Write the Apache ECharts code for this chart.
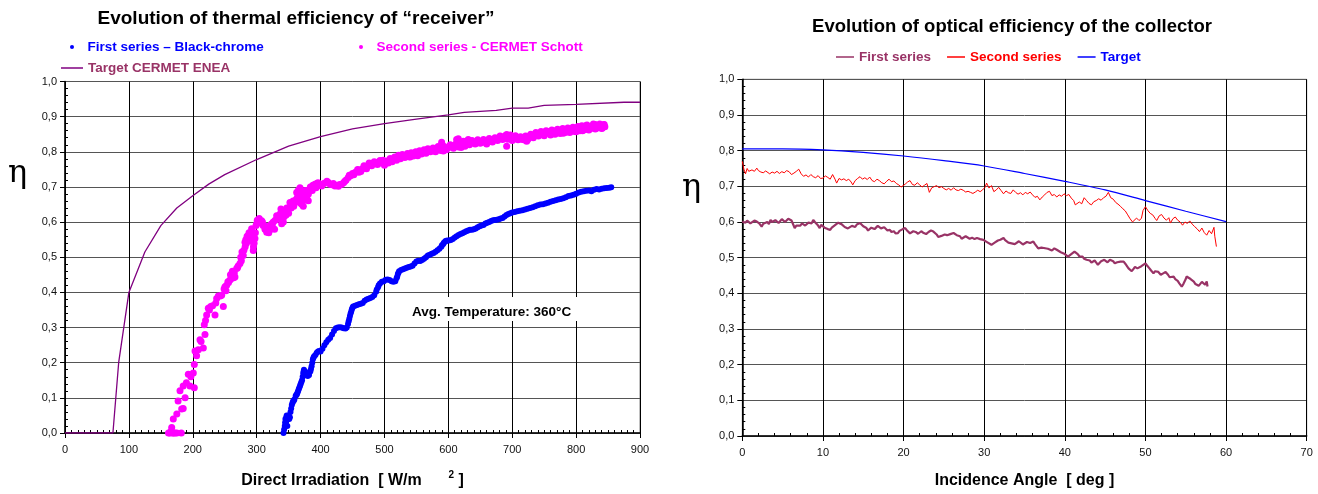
<!DOCTYPE html>
<html><head><meta charset="utf-8">
<script src="https://cdn.jsdelivr.net/npm/echarts@6/dist/echarts.min.js"></script>
<style>html,body{margin:0;padding:0;background:#fff}#c{width:1318px;height:494px}</style>
</head><body><div id="c"></div>
<script>
// ---------- Left chart data: thermal efficiency vs direct irradiation ----------
const blackChrome = [[342,0],[343,0.01],[344,0.02],[344.5,0.03],[345,0.04],[346,0.03],[346.5,0.045],[347,0.05],[348,0.02],[349,0.04],[350,0.05],[351,0.04],[352,0.045],[353,0.06],[354,0.07],[355,0.08],[356,0.085],[357,0.09],[358,0.092],[359,0.095],[361,0.105],[362,0.108],[363,0.11],[364,0.115],[365,0.12],[366,0.125],[367,0.13],[368,0.135],[369,0.14],[370,0.145],[371,0.15],[372,0.16],[373,0.17],[373.5,0.175],[374,0.18],[376,0.175],[378,0.165],[380,0.162],[382,0.165],[384,0.175],[385,0.182],[386,0.19],[387,0.2],[388,0.21],[389,0.215],[390,0.218],[392,0.222],[394,0.228],[396,0.232],[398,0.233],[400,0.232],[403,0.24],[406,0.25],[409,0.258],[412,0.265],[415,0.27],[418,0.28],[421,0.29],[424,0.298],[427,0.3],[430,0.301],[433,0.3],[436,0.298],[439,0.297],[441,0.3],[443,0.31],[444,0.318],[445,0.325],[446,0.333],[447,0.34],[448,0.346],[449,0.352],[450,0.356],[451,0.36],[454,0.362],[457,0.364],[460,0.366],[463,0.368],[466,0.37],[469,0.376],[472,0.38],[475,0.382],[478,0.384],[481,0.387],[484,0.392],[487,0.402],[488,0.408],[490,0.415],[491,0.42],[493,0.425],[496,0.43],[499,0.432],[502,0.436],[505,0.437],[508,0.435],[511,0.432],[514,0.43],[517,0.432],[519,0.44],[520,0.445],[521,0.452],[522,0.456],[523,0.46],[526,0.464],[529,0.466],[532,0.468],[535,0.47],[538,0.472],[541,0.474],[544,0.476],[547,0.482],[550,0.488],[553,0.49],[556,0.489],[559,0.492],[562,0.496],[565,0.5],[568,0.505],[571,0.507],[574,0.51],[577,0.512],[580,0.516],[583,0.52],[586,0.524],[589,0.53],[590,0.534],[592,0.538],[593,0.541],[595,0.545],[596,0.546],[598,0.548],[601,0.548],[604,0.549],[607,0.552],[610,0.556],[613,0.56],[616,0.563],[619,0.566],[622,0.568],[625,0.571],[628,0.574],[631,0.576],[634,0.578],[637,0.578],[640,0.58],[643,0.582],[646,0.585],[649,0.588],[652,0.59],[655,0.592],[658,0.596],[661,0.598],[664,0.6],[667,0.603],[670,0.605],[673,0.606],[676,0.607],[679,0.608],[682,0.61],[685,0.612],[688,0.616],[691,0.62],[694,0.623],[697,0.625],[700,0.627],[704,0.629],[708,0.631],[712,0.632],[716,0.634],[720,0.636],[724,0.638],[728,0.64],[732,0.642],[736,0.645],[740,0.648],[744,0.65],[748,0.651],[752,0.653],[756,0.655],[760,0.658],[764,0.66],[768,0.662],[772,0.664],[776,0.666],[780,0.668],[784,0.671],[788,0.674],[792,0.676],[796,0.678],[800,0.681],[804,0.684],[808,0.686],[812,0.688],[816,0.689],[820,0.69],[824,0.688],[828,0.692],[832,0.694],[836,0.693],[840,0.695],[844,0.696],[848,0.697],[852,0.698],[855,0.699]];

const cermetSchott = [[162,0],[164,0],[166,0.005],[167,0.016],[168,0],[170,0],[172,0],[175,0],[182,0],[169.5,0.04],[175,0.054],[177,0.091],[180,0.12],[182.6,0.068],[185,0.07],[185,0.134],[188,0.1],[190,0.143],[193,0.167],[195.6,0.134],[197,0.16],[200.8,0.171],[202.4,0.129],[202.4,0.195],[203.5,0.233],[206,0.22],[208.7,0.237],[211.3,0.265],[213,0.26],[216.5,0.242],[218,0.308],[219.1,0.28],[220,0.32],[221.7,0.336],[224.3,0.355],[226,0.35],[228,0.36],[231,0.362],[234.8,0.336],[236,0.37],[237.4,0.383],[240,0.39],[243,0.39],[245.2,0.392],[247.8,0.36],[249,0.41],[250.4,0.416],[253,0.42],[256,0.428],[258.2,0.435],[261,0.44],[264,0.442],[266,0.444],[268.7,0.468],[270,0.47],[273.9,0.482],[276,0.49],[279,0.505],[280,0.52],[281.7,0.543],[283,0.55],[285,0.56],[286.9,0.562],[288,0.57],[290,0.55],[292.1,0.581],[294.7,0.519],[295,0.53],[297.3,0.553],[299,0.59],[300,0.595],[302.6,0.6],[305,0.598],[307.8,0.604],[310,0.59],[313,0.58],[315.7,0.571],[318,0.575],[320.8,0.59],[323.5,0.595],[326,0.6],[329,0.605],[331.3,0.618],[333,0.61],[336.5,0.623],[338,0.637],[339.1,0.595],[341.7,0.6],[344,0.63],[347,0.64],[349.5,0.637],[352.1,0.656],[355,0.65],[357,0.66],[360,0.656],[362.6,0.684],[364,0.67],[365,0.69],[367.8,0.698],[369,0.68],[370.4,0.651],[372,0.66],[374,0.675],[376,0.69],[378.3,0.67],[380.8,0.661],[383.4,0.694],[386,0.7],[388,0.705],[391.3,0.708],[394,0.71],[397,0.705],[401.7,0.703],[405,0.71],[408,0.712],[412.1,0.713],[415,0.708],[418,0.706],[422.6,0.703],[426,0.705],[430,0.707],[433,0.708],[436,0.712],[440,0.72],[443.4,0.727],[447,0.732],[450,0.738],[453.9,0.741],[457,0.744],[460,0.748],[464.3,0.75],[467,0.754],[470,0.757],[474.7,0.761],[478,0.764],[482,0.766],[485,0.768],[487.8,0.769],[491,0.771],[494,0.768],[497,0.77],[500.8,0.767],[504,0.773],[507,0.776],[510,0.775],[513.8,0.778],[517,0.78],[520,0.782],[523,0.784],[526.9,0.785],[530,0.787],[534,0.789],[537,0.79],[540,0.79],[543,0.792],[547,0.793],[550,0.794],[553,0.794],[556,0.798],[560,0.8],[563,0.801],[566,0.802],[570,0.804],[574,0.806],[579,0.807],[582,0.81],[586,0.809],[589.5,0.827],[592.1,0.802],[595,0.81],[598,0.811],[601,0.813],[605,0.814],[607.7,0.816],[610,0.818],[613,0.835],[615.6,0.837],[618,0.82],[621,0.822],[623.4,0.83],[626,0.816],[629,0.823],[631.2,0.835],[634,0.824],[638,0.826],[641,0.827],[644.3,0.826],[647,0.828],[651,0.829],[654,0.828],[657,0.83],[660,0.83],[663,0.832],[667,0.833],[671,0.834],[675.6,0.837],[679,0.838],[683,0.84],[687,0.842],[691.3,0.849],[691.3,0.816],[695,0.84],[699,0.841],[703,0.84],[706.9,0.84],[710,0.838],[714,0.836],[718,0.834],[722.6,0.83],[725,0.838],[727.7,0.844],[731,0.845],[735,0.847],[739,0.85],[743.4,0.852],[747,0.853],[751,0.855],[756.4,0.858],[760,0.856],[765,0.855],[769.5,0.854],[773,0.857],[777,0.859],[781,0.86],[785.1,0.861],[789,0.862],[793,0.862],[797,0.863],[800.8,0.863],[804,0.865],[808,0.866],[811.2,0.868],[814,0.869],[818,0.87],[821.7,0.871],[825,0.872],[829,0.873],[832.1,0.874],[835,0.873],[838,0.872],[842.5,0.872],[845,0.871],[760,0.848],[790,0.855],[810,0.86],[830,0.865],[840,0.866],[820,0.862],[800,0.857],[780,0.853],[750,0.846],[700,0.832],[660,0.822],[620,0.812],[580,0.8],[540,0.785],[500,0.762],[460,0.742],[770,0.862],[800,0.868],[830,0.878],[843,0.877],[815,0.874],
[252,0.405],[255,0.43],[259,0.45],[262,0.46],[265,0.455],[271,0.475],[275,0.5],[277,0.515],[282,0.53],[284,0.54],[289,0.555],[291,0.565],[293,0.545],[296,0.54],[298,0.57],[301,0.605],[304,0.61],[306,0.6],[309,0.6],[312,0.59],[316,0.585],[319,0.57],[322,0.58],[325,0.585],[328,0.58],[335,0.61],[343,0.615],[346,0.62],[350,0.625],[354,0.64],[358,0.645],[362,0.665],[365,0.675],[368,0.655],[371,0.67],[373,0.645],[375,0.685],[379,0.69],[381,0.68],[384,0.7],[387,0.69],[390,0.703],[393,0.698],[396,0.712],[399,0.708],
[403,0.708],[410,0.716],[420,0.71],[428,0.702],[438,0.716],[445,0.733],[452,0.735],[458,0.75],[463,0.744],[468,0.76],[472,0.752],[476,0.768],[480,0.76],[484,0.772],[489,0.764],[493,0.775],[498,0.776],[502,0.772],[506,0.768],[509,0.781],[512,0.772],[516,0.785],[519,0.776],[522,0.79],[525,0.78],[528,0.792],[532,0.784],[536,0.795],[539,0.786],[542,0.797],[545,0.788],[549,0.8],[552,0.789],[555,0.803],[558,0.794],[562,0.806],[565,0.796],[568,0.809],[572,0.8],[576,0.811],[584,0.815],[588,0.804],[593,0.816],[597,0.806],[603,0.82],[608,0.81],[612,0.823],[616,0.814],[620,0.826],[624,0.818],[628,0.83],[633,0.82],[637,0.832],[642,0.822],[646,0.834],[650,0.824],[655,0.835],[659,0.826],[664,0.838],[669,0.828],[673,0.84],[677,0.832],[681,0.845],[685,0.835],[689,0.846],[693,0.836],[697,0.848],[701,0.836],[705,0.846],[709,0.834],[713,0.843],[717,0.84],[721,0.845],[724,0.834],[729,0.85],[733,0.84],[737,0.855],[741,0.845],[745,0.858],[749,0.849],[753,0.86],[758,0.852],[762,0.862],[767,0.85],[771,0.864],[775,0.852],[779,0.866],[783,0.855],[787,0.868],[791,0.858],[795,0.87],[798,0.858],[803,0.872],[806,0.86],[809,0.874],[813,0.863],[817,0.876],[823,0.866],[827,0.879],[833,0.868],[837,0.879],[841,0.868],[844,0.878]];

const targetEnea = [[0,0],[75,0],[84,0.2],[100,0.4],[125,0.515],[150,0.59],[175,0.64],[200,0.675],[225,0.708],[250,0.735],[300,0.778],[350,0.816],[400,0.843],[450,0.865],[500,0.88],[550,0.893],[600,0.905],[625,0.912],[675,0.918],[700,0.924],[725,0.924],[750,0.932],[800,0.935],[875,0.941],[900,0.941]];

// ---------- Right chart data: optical efficiency vs incidence angle ----------
const firstSeries = [[0,0.601],[0.2,0.606],[0.4,0.598],[0.6,0.604],[0.8,0.603],[1.0,0.596],[1.2,0.597],[1.5,0.604],[1.8,0.601],[2.1,0.596],[2.4,0.587],[2.6,0.595],[2.8,0.598],[3.1,0.6],[3.3,0.594],[3.5,0.606],[3.7,0.6],[3.9,0.598],[4.1,0.605],[4.3,0.603],[4.5,0.597],[4.7,0.601],[4.9,0.608],[5.1,0.606],[5.3,0.6],[5.5,0.603],[5.7,0.609],[5.9,0.611],[6.1,0.604],[6.2,0.6],[6.5,0.583],[6.7,0.59],[6.9,0.592],[7.2,0.59],[7.4,0.596],[7.6,0.597],[7.8,0.59],[8,0.594],[8.2,0.598],[8.4,0.6],[8.6,0.596],[8.8,0.606],[9.0,0.6],[9.2,0.596],[9.4,0.59],[9.6,0.583],[9.8,0.592],[10,0.59],[10.2,0.584],[10.4,0.585],[10.6,0.58],[10.9,0.578],[11.1,0.584],[11.3,0.585],[11.5,0.591],[11.7,0.594],[11.9,0.598],[12.1,0.601],[12.3,0.594],[12.5,0.592],[12.7,0.586],[12.9,0.588],[13.1,0.582],[13.3,0.583],[13.6,0.589],[13.8,0.59],[14.0,0.586],[14.2,0.593],[14.4,0.59],[14.6,0.597],[14.8,0.592],[15,0.588],[15.2,0.584],[15.4,0.583],[15.6,0.576],[15.8,0.578],[16.0,0.584],[16.2,0.586],[16.4,0.58],[16.6,0.584],[16.8,0.589],[17,0.587],[17.2,0.582],[17.4,0.58],[17.6,0.585],[17.8,0.582],[18.0,0.576],[18.3,0.578],[18.5,0.572],[18.8,0.574],[19.0,0.568],[19.3,0.569],[19.5,0.575],[19.7,0.577],[19.9,0.58],[20.2,0.583],[20.4,0.577],[20.6,0.574],[20.8,0.568],[21,0.569],[21.2,0.574],[21.5,0.572],[21.8,0.567],[22,0.57],[22.2,0.574],[22.5,0.569],[22.8,0.566],[23.1,0.572],[23.4,0.576],[23.7,0.573],[23.9,0.568],[24.1,0.565],[24.3,0.558],[24.5,0.555],[24.7,0.561],[24.9,0.56],[25.1,0.565],[25.4,0.563],[25.6,0.568],[25.8,0.566],[26.0,0.571],[26.2,0.569],[26.4,0.566],[26.6,0.563],[26.8,0.558],[27,0.56],[27.2,0.553],[27.4,0.555],[27.7,0.56],[27.9,0.558],[28.2,0.553],[28.5,0.556],[28.8,0.552],[29.1,0.555],[29.3,0.558],[29.5,0.552],[29.7,0.548],[29.9,0.55],[30.1,0.546],[30.4,0.543],[30.6,0.54],[30.9,0.536],[31.1,0.54],[31.3,0.542],[31.5,0.546],[31.7,0.548],[32,0.55],[32.2,0.552],[32.4,0.555],[32.6,0.549],[32.8,0.547],[33.0,0.542],[33.2,0.545],[33.4,0.54],[33.6,0.543],[33.8,0.538],[34,0.541],[34.3,0.546],[34.5,0.543],[34.8,0.537],[35,0.539],[35.3,0.544],[35.7,0.541],[35.9,0.546],[36.1,0.545],[36.3,0.538],[36.5,0.533],[36.7,0.526],[36.9,0.522],[37.1,0.528],[37.4,0.527],[37.6,0.522],[37.9,0.525],[38.1,0.53],[38.4,0.52],[38.7,0.526],[39,0.522],[39.2,0.518],[39.5,0.515],[39.7,0.519],[40,0.51],[40.2,0.506],[40.4,0.503],[40.6,0.508],[40.8,0.51],[41.0,0.514],[41.2,0.517],[41.4,0.512],[41.6,0.51],[41.8,0.504],[42,0.5],[42.2,0.503],[42.4,0.497],[42.7,0.494],[42.9,0.498],[43.1,0.492],[43.3,0.486],[43.5,0.488],[43.7,0.492],[43.9,0.486],[44.1,0.48],[44.3,0.484],[44.5,0.49],[44.7,0.488],[44.9,0.494],[45.1,0.492],[45.3,0.487],[45.6,0.494],[45.8,0.497],[46,0.49],[46.2,0.484],[46.5,0.487],[46.7,0.482],[46.9,0.489],[47.1,0.494],[47.3,0.489],[47.5,0.483],[47.7,0.478],[47.9,0.47],[48.1,0.466],[48.3,0.462],[48.5,0.468],[48.7,0.474],[49,0.47],[49.2,0.466],[49.5,0.476],[49.7,0.472],[50,0.484],[50.2,0.478],[50.5,0.47],[50.7,0.464],[51,0.456],[51.2,0.462],[51.4,0.466],[51.6,0.46],[51.9,0.452],[52.2,0.456],[52.5,0.46],[52.8,0.452],[53.0,0.445],[53.2,0.45],[53.5,0.447],[53.7,0.44],[54,0.435],[54.2,0.428],[54.5,0.419],[54.7,0.426],[54.8,0.43],[55.0,0.44],[55.1,0.447],[55.3,0.442],[55.6,0.44],[55.8,0.436],[56,0.433],[56.2,0.426],[56.4,0.428],[56.6,0.421],[56.8,0.424],[57.0,0.432],[57.2,0.43],[57.4,0.424],[57.6,0.433],[57.7,0.419]];

const secondSeries = [[0,0.77],[0.2,0.748],[0.4,0.735],[0.6,0.75],[0.8,0.742],[1.0,0.738],[1.2,0.746],[1.5,0.742],[1.8,0.751],[2.0,0.744],[2.3,0.74],[2.6,0.738],[2.9,0.743],[3.1,0.747],[3.4,0.735],[3.7,0.74],[4.0,0.737],[4.3,0.742],[4.6,0.736],[4.9,0.741],[5.2,0.738],[5.5,0.744],[5.8,0.741],[6.1,0.733],[6.4,0.737],[6.7,0.742],[7.0,0.748],[7.3,0.735],[7.6,0.728],[7.9,0.732],[8.2,0.726],[8.5,0.733],[8.8,0.727],[9.1,0.724],[9.4,0.73],[9.7,0.722],[10.0,0.723],[10.3,0.729],[10.6,0.725],[10.9,0.72],[11.2,0.733],[11.5,0.72],[11.7,0.709],[12.0,0.722],[12.3,0.718],[12.6,0.721],[12.9,0.716],[13.2,0.72],[13.5,0.712],[13.7,0.704],[14.0,0.716],[14.3,0.722],[14.6,0.727],[14.9,0.72],[15.2,0.724],[15.5,0.719],[15.8,0.726],[16.1,0.716],[16.4,0.713],[16.7,0.72],[17.0,0.716],[17.3,0.71],[17.6,0.707],[17.9,0.714],[18.2,0.72],[18.5,0.713],[18.8,0.715],[19.1,0.708],[19.4,0.704],[19.7,0.698],[19.9,0.694],[20.2,0.706],[20.5,0.712],[20.8,0.716],[21.1,0.705],[21.4,0.703],[21.7,0.71],[22.0,0.704],[22.3,0.698],[22.6,0.703],[22.9,0.708],[23.2,0.683],[23.5,0.696],[23.8,0.699],[24.1,0.702],[24.4,0.696],[24.7,0.699],[25.0,0.694],[25.3,0.69],[25.6,0.694],[25.9,0.689],[26.2,0.696],[26.5,0.69],[26.8,0.688],[27.1,0.692],[27.4,0.689],[27.7,0.684],[28.0,0.686],[28.3,0.683],[28.6,0.68],[28.9,0.684],[29.2,0.689],[29.5,0.685],[29.8,0.69],[30.1,0.697],[30.3,0.709],[30.6,0.695],[30.9,0.702],[31.2,0.685],[31.5,0.69],[31.8,0.697],[32.1,0.688],[32.4,0.679],[32.7,0.687],[33.0,0.682],[33.3,0.68],[33.6,0.69],[33.9,0.683],[34.2,0.678],[34.5,0.682],[34.8,0.676],[35.1,0.683],[35.4,0.679],[35.7,0.684],[36.0,0.676],[36.3,0.669],[36.6,0.672],[36.9,0.662],[37.2,0.67],[37.5,0.676],[37.8,0.683],[38.1,0.686],[38.4,0.674],[38.7,0.677],[39.0,0.67],[39.3,0.676],[39.6,0.672],[39.9,0.679],[40.2,0.674],[40.5,0.677],[40.8,0.667],[41.1,0.66],[41.3,0.648],[41.5,0.643],[41.8,0.656],[42.1,0.651],[42.4,0.668],[42.7,0.66],[43.0,0.652],[43.3,0.648],[43.6,0.657],[43.9,0.66],[44.2,0.665],[44.5,0.661],[44.8,0.668],[45.1,0.672],[45.4,0.683],[45.7,0.668],[46.0,0.664],[46.3,0.655],[46.6,0.65],[46.9,0.644],[47.2,0.637],[47.5,0.631],[47.8,0.62],[48.1,0.609],[48.4,0.6],[48.6,0.595],[48.9,0.611],[49.2,0.604],[49.5,0.61],[49.7,0.632],[50.0,0.643],[50.3,0.632],[50.6,0.624],[50.9,0.62],[51.2,0.61],[51.4,0.604],[51.7,0.617],[52.0,0.621],[52.3,0.611],[52.6,0.605],[52.9,0.612],[53.1,0.597],[53.4,0.609],[53.7,0.614],[54.0,0.605],[54.3,0.6],[54.6,0.591],[54.9,0.6],[55.2,0.596],[55.5,0.603],[55.8,0.594],[56.1,0.587],[56.4,0.581],[56.7,0.573],[57.0,0.583],[57.3,0.57],[57.6,0.563],[57.9,0.576],[58.2,0.567],[58.5,0.585],[58.6,0.56],[58.8,0.531]];

const targetOptical = [[0,0.805],[5,0.805],[10,0.802],[15,0.795],[20,0.785],[25,0.772],[30,0.757],[35,0.736],[40,0.714],[45,0.69],[50,0.66],[55,0.63],[60,0.601]];

const leftXTicks = {min:0, max:900, interval:100};
const rightXTicks = {min:0, max:70, interval:10};
const yTicks = {min:0, max:1, interval:0.1};

const FONT = 'Liberation Sans, Arial, sans-serif';
const yFmt = v => v.toFixed(1).replace('.', ',');

function xAxis(gridIndex, t, split, name) {
  return {
    type:'value', gridIndex, min:t.min, max:t.max, interval:t.interval,
    name, nameLocation:'middle', nameGap:37,
    nameTextStyle:{fontFamily:FONT, fontSize:16, fontWeight:'bold', color:'#000',
      rich:{b:{fontFamily:FONT,fontSize:16,fontWeight:'bold',color:'#000'},
            s:{fontFamily:FONT,fontSize:10,fontWeight:'bold',color:'#000',padding:[0,0,12,0]}}},
    axisLine:{show:true, onZero:false, lineStyle:{color:'#000', width:1.5}},
    axisTick:{show:true, length:5, lineStyle:{color:'#000'}},
    minorTick:{show:true, splitNumber:split, length:-3, lineStyle:{color:'#000'}},
    axisLabel:{fontFamily:FONT, fontSize:11, color:'#111', margin:11},
    splitLine:{show:true, lineStyle:{color:'#000', width:1}}
  };
}
function yAxis(gridIndex) {
  return {
    type:'value', gridIndex, min:yTicks.min, max:yTicks.max, interval:yTicks.interval,
    axisLine:{show:true, lineStyle:{color:'#000', width:1.5}},
    axisTick:{show:true, length:5, lineStyle:{color:'#000'}},
    minorTick:{show:true, splitNumber:5, length:-3, lineStyle:{color:'#000'}},
    axisLabel:{fontFamily:FONT, fontSize:11, color:'#111', margin:8, formatter:yFmt},
    splitLine:{show:true, lineStyle:{color:'#555', width:1}}
  };
}

const chart = echarts.init(document.getElementById('c'), null, {renderer:'canvas'});
const legText = {fontFamily:FONT, fontSize:13.5, fontWeight:'bold'};
chart.setOption({
  animation:false,
  backgroundColor:'#fff',
  title:[
    {text:'Evolution of thermal efficiency of “receiver”', left:291, top:4, textAlign:'center',
     textStyle:{fontFamily:FONT, fontSize:19, fontWeight:'bold', color:'#000'}},
    {text:'Evolution of optical efficiency of the collector', left:1007, top:12, textAlign:'center',
     textStyle:{fontFamily:FONT, fontSize:18.5, fontWeight:'bold', color:'#000'}}
  ],
  legend:[
    {left:65, top:35, itemWidth:5, itemHeight:4, icon:'circle', textStyle:Object.assign({padding:[0,0,0,8]}, legText),
     data:[{name:'First series – Black-chrome', textStyle:{color:'#0000ff'}}]},
    {left:354, top:35, itemWidth:5, itemHeight:4, icon:'circle', textStyle:Object.assign({padding:[0,0,0,8]}, legText),
     data:[{name:'Second series - CERMET Schott', textStyle:{color:'#ff00ff'}}]},
    {left:56, top:56, itemWidth:22, itemHeight:1.5, textStyle:legText,
     data:[{name:'Target CERMET ENEA', icon:'rect', textStyle:{color:'#993366'}}]},
    {left:831, top:45, itemWidth:18, itemHeight:1.5, itemGap:16, textStyle:legText,
     data:[{name:'First series', icon:'rect', textStyle:{color:'#993366'}},
           {name:'Second series', icon:'rect', textStyle:{color:'#ff0000'}},
           {name:'Target', icon:'rect', textStyle:{color:'#0000ff'}}]}
  ],
  grid:[
    {left:65, top:81.5, width:575, height:354.2, show:true, borderColor:'#808080', borderWidth:1, backgroundColor:'transparent'},
    {left:742.3, top:79.3, width:564.4, height:356.7, show:true, borderColor:'#808080', borderWidth:1, backgroundColor:'transparent'}
  ],
  xAxis:[
    xAxis(0, leftXTicks, 10, '{b|Direct Irradiation  [ W/m      }{s|2}{b| ]}'),
    xAxis(1, rightXTicks, 5, 'Incidence Angle  [ deg ]')
  ],
  yAxis:[yAxis(0), yAxis(1)],
  graphic:[
    {type:'text', left:8, top:158, style:{text:'η', font:'32px "DejaVu Serif", serif', fill:'#000'}},
    {type:'text', left:682, top:172, style:{text:'η', font:'32px "DejaVu Serif", serif', fill:'#000'}},
    {type:'rect', left:404, top:297, shape:{width:178, height:24}, style:{fill:'#fff'}, z:10},
    {type:'text', left:412, top:305, z:11, style:{text:'Avg. Temperature: 360°C', font:'bold 13.5px Liberation Sans, Arial, sans-serif', fill:'#000'}}
  ],
  series:[
    {name:'Target CERMET ENEA', type:'line', xAxisIndex:0, yAxisIndex:0, data:targetEnea, symbol:'none',
     lineStyle:{color:'#800080', width:1.3}, itemStyle:{color:'#800080'}, z:3},
    {name:'Second series - CERMET Schott', type:'scatter', xAxisIndex:0, yAxisIndex:0, data:cermetSchott,
     symbolSize:7, itemStyle:{color:'#ff00ff', opacity:1}, z:4},
    {name:'First series – Black-chrome', type:'scatter', xAxisIndex:0, yAxisIndex:0, data:blackChrome,
     symbolSize:6, itemStyle:{color:'#0000ff', opacity:1}, z:4},
    {name:'First series', type:'line', xAxisIndex:1, yAxisIndex:1, data:firstSeries, symbol:'none',
     lineStyle:{color:'#993366', width:2.2}, itemStyle:{color:'#993366'}, z:3},
    {name:'Second series', type:'line', xAxisIndex:1, yAxisIndex:1, data:secondSeries, symbol:'none',
     lineStyle:{color:'#ff0000', width:1}, itemStyle:{color:'#ff0000'}, z:3},
    {name:'Target', type:'line', xAxisIndex:1, yAxisIndex:1, data:targetOptical, symbol:'none', smooth:0.3,
     lineStyle:{color:'#0000ff', width:1.2}, itemStyle:{color:'#0000ff'}, z:3}
  ]
});
</script></body></html>
